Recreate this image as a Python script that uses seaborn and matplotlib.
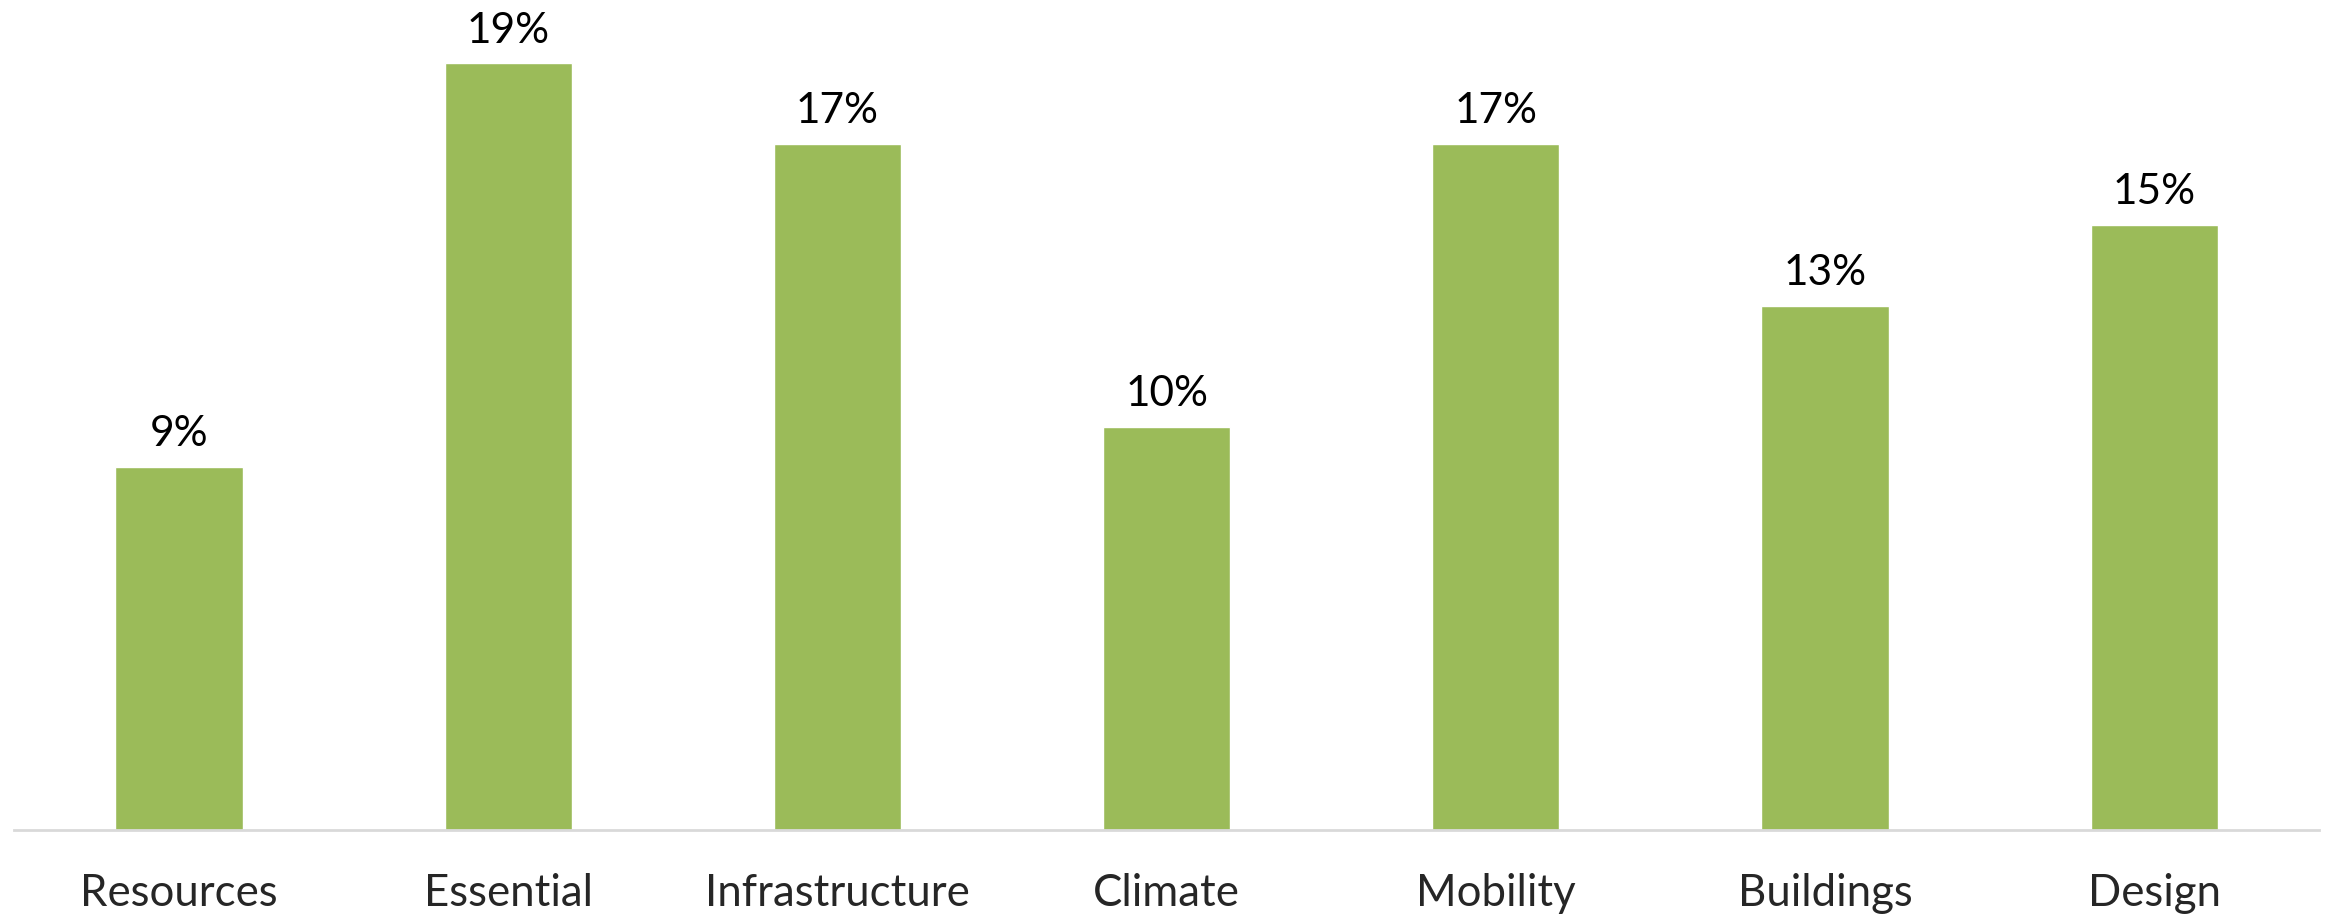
import seaborn as sns
import matplotlib.pyplot as plt
import pandas as pd
import numpy as np

categories = ['Resources', 'Essential', 'Infrastructure', 'Climate', 'Mobility', 'Buildings', 'Design']
shares = [9, 19, 17, 10, 17, 13, 15]

df = pd.DataFrame({'category': categories, 'share': shares})

sns.set_style('white')
plt.rcParams['font.family'] = ['Lato', 'DejaVu Sans']

fig = plt.figure(figsize=(23.26, 9.17), dpi=100)
ax = fig.add_axes([0.0062, 0.0948, 0.9907, 0.88])

sns.barplot(data=df, x='category', y='share', order=categories, color='#9BBB59',
            width=0.386, saturation=1, ax=ax)

for c in ax.containers:
    ax.bar_label(c, labels=[f'{v:.0f}%' for v in c.datavalues], padding=10,
                 fontsize=30.5, color='black')

ax.set_xlim(-0.5, len(categories) - 0.5)
ax.set_ylim(0, 20)
ax.set_yticks([])
ax.set_xlabel('')
ax.set_ylabel('')

# category boundary ticks like the Excel axis
ax.set_xticks(np.arange(len(categories) + 1) - 0.5, minor=True)
ax.tick_params(axis='x', which='minor', length=11, width=1.5, color='#D9D9D9', direction='out')
ax.tick_params(axis='x', which='major', length=0, pad=31, labelsize=31.5)

for side in ['top', 'right', 'left']:
    ax.spines[side].set_visible(False)
ax.spines['bottom'].set_color('#D9D9D9')
ax.spines['bottom'].set_linewidth(2)

fig.savefig('out.png', dpi=100)
